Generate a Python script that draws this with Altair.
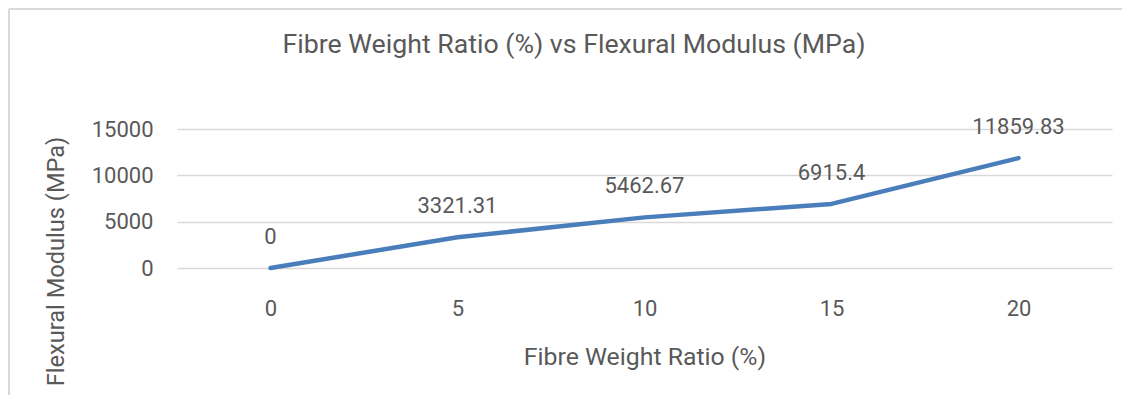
import altair as alt
import pandas as pd

ratios = ["0", "5", "10", "15", "20"]
modulus = [0, 3321.31, 5462.67, 6915.4, 11859.83]
labels = [str(v) for v in modulus]
y_ticks = [0, 5000, 10000, 15000]
title_text = "Fibre Weight Ratio (%) vs Flexural Modulus (MPa)"
x_title = "Fibre Weight Ratio (%)"
y_title = "Flexural Modulus (MPa)"

df = pd.DataFrame({"ratio": ratios, "modulus": modulus, "label": labels})
one = pd.DataFrame({"a": [0]})

FONT = "Roboto"
GREY = "#595959"
W, H = 935, 139
L, T, R, B = 169, 121, 10, 127

x_enc = alt.X(
    "ratio:N", sort=ratios, scale=alt.Scale(padding=0.5),
    axis=alt.Axis(title=x_title, labelAngle=0, domain=False, ticks=False, tickSize=0,
                  labelPadding=30, labelFontSize=22, labelColor=GREY, labelFont=FONT,
                  titleFont=FONT, titleFontSize=24.8, titleFontWeight="normal", titleColor=GREY,
                  titleBaseline="middle", titleY=89, grid=False),
)
y_enc = alt.Y(
    "modulus:Q", scale=alt.Scale(domain=[0, 15000], nice=False),
    axis=alt.Axis(title=y_title, values=y_ticks, format="d", domain=False, ticks=False, tickSize=0,
                  labelPadding=24, labelFontSize=22, labelColor=GREY, labelFont=FONT,
                  grid=True, gridColor="#d9d9d9", gridWidth=1.5,
                  titleFont=FONT, titleFontSize=23.6, titleFontWeight="normal", titleColor=GREY,
                  titleAngle=270, titleBaseline="middle", titleAlign="center",
                  titleX=-121, titleY=132),
)

line = alt.Chart(df).mark_line(color="#4a7ebb", strokeWidth=4.5, strokeCap="round", strokeJoin="round").encode(
    x=x_enc, y=y_enc
)
text = alt.Chart(df).mark_text(dy=-31, font=FONT, fontSize=22, color=GREY, baseline="middle").encode(
    x=alt.X("ratio:N", sort=ratios), y="modulus:Q", text="label:N"
)
title = alt.Chart(one).mark_text(font=FONT, fontSize=26.7, color=GREY, baseline="middle", align="center").encode(
    x=alt.value(397), y=alt.value(-84), text=alt.value(title_text)
)
frame_left = alt.Chart(one).mark_rule(color="#d9d9d9", strokeWidth=2).encode(
    x=alt.value(-168), y=alt.value(-120), y2=alt.value(H + B)
)
frame_top = alt.Chart(one).mark_rule(color="#d9d9d9", strokeWidth=2).encode(
    x=alt.value(-168), x2=alt.value(W + R), y=alt.value(-120)
)

chart = alt.layer(frame_left, frame_top, line, text, title).properties(
    width=W, height=H,
    padding={"left": L, "top": T, "right": R, "bottom": B},
    autosize=alt.AutoSizeParams(type="none"),
    background="white",
).configure_view(stroke=None)

chart.save("out.html", embed_options={"renderer": "svg", "actions": False})
